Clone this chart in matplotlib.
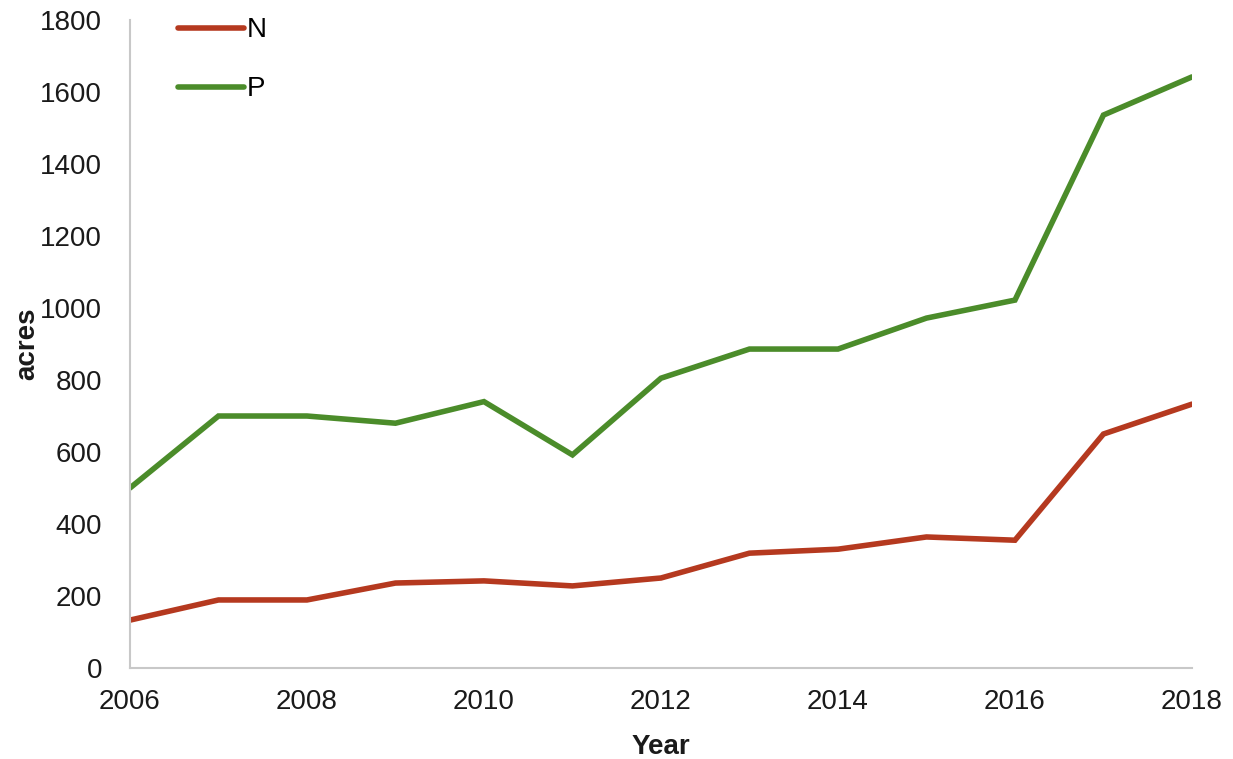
import matplotlib
matplotlib.use("Agg")
import matplotlib.pyplot as plt

# Dados
anos = [2006, 2007, 2008, 2009, 2010, 2011, 2012, 2013, 2014, 2015, 2016, 2017, 2018]
valores_n = [133, 189, 189, 236, 242, 228, 250, 319, 330, 364, 355, 650, 733]
valores_p = [500, 700, 700, 680, 740, 592, 805, 886, 886, 972, 1022, 1536, 1642]

COR_N = "#B5391F"
COR_P = "#4B8C2A"
COR_EIXO = "#C8C8C8"

plt.rcParams["font.family"] = ["Liberation Sans", "DejaVu Sans"]

fig = plt.figure(figsize=(12.33, 7.59), dpi=100)
ax = fig.add_axes([0.1054, 0.1199, 0.8613, 0.8537])

ax.plot(anos, valores_n, color=COR_N, linewidth=4.0, label="N",
        solid_capstyle="round", solid_joinstyle="miter")
ax.plot(anos, valores_p, color=COR_P, linewidth=4.0, label="P",
        solid_capstyle="round", solid_joinstyle="miter")

ax.set_xlim(2006, 2018)
ax.set_ylim(0, 1800)
ax.set_xticks(range(2006, 2019, 2))
ax.set_yticks(range(0, 1801, 200))
ax.tick_params(axis="both", length=0, labelsize=20, colors="#1a1a1a")
ax.tick_params(axis="x", pad=15)
ax.tick_params(axis="y", pad=20)

for lado in ("top", "right"):
    ax.spines[lado].set_visible(False)
for lado in ("left", "bottom"):
    ax.spines[lado].set_color(COR_EIXO)
    ax.spines[lado].set_linewidth(1.5)

ax.set_xlabel("Year", fontsize=20, fontweight="bold", labelpad=14, color="#1a1a1a")
ax.set_ylabel("acres", fontsize=20, fontweight="bold", labelpad=0, color="#1a1a1a")

leg = ax.legend(loc="upper left", bbox_to_anchor=(0.045, 1.004), frameon=False,
                fontsize=20, handlelength=2.4, handletextpad=0.1,
                labelspacing=1.18, borderpad=0, borderaxespad=0)

fig.savefig("out.png", dpi=100, facecolor="white")
